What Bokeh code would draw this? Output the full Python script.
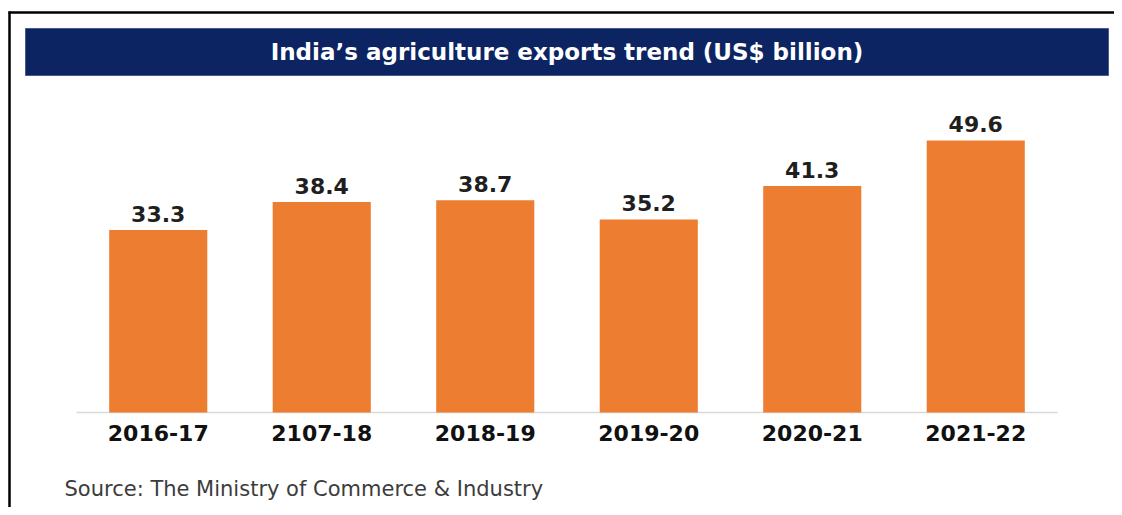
import numpy as np
from bokeh.plotting import figure
from bokeh.models import ColumnDataSource, Range1d
from bokeh.core.properties import value
from bokeh.embed import file_html
from bokeh.resources import INLINE

# ---- data ----
years = ["2016-17", "2107-18", "2018-19", "2019-20", "2020-21", "2021-22"]
exports = [33.3, 38.4, 38.7, 35.2, 41.3, 49.6]
value_labels = ["33.3", "38.4", "38.7", "35.2", "41.3", "49.6"]
title_text = "India\u2019s agriculture exports trend (US$ billion)"
source_text = "Source: The Ministry of Commerce & Industry"

# ---- layout (canvas pixels) ----
W, H = 1114, 507
PX_X = 163.5          # pixels per category slot
PX_Y = 5.484          # pixels per US$ billion
AXIS_LEFT_PX = 76     # canvas x where first slot starts
BASE_PX = 412         # canvas y of the baseline

X0 = -0.5 - AXIS_LEFT_PX / PX_X
X1 = X0 + W / PX_X
Y1 = BASE_PX / PX_Y
Y0 = Y1 - H / PX_Y


def dx(cx):
    return X0 + cx / PX_X


def dy(cy):
    return Y1 - cy / PX_Y


FONT = value("DejaVu Sans")

p = figure(width=W, height=H, output_backend="svg", toolbar_location=None,
           x_range=Range1d(X0, X1), y_range=Range1d(Y0, Y1),
           x_axis_location=None, y_axis_location=None,
           min_border=0, min_border_left=0, min_border_right=0,
           min_border_top=0, min_border_bottom=0)
p.grid.visible = False
p.outline_line_color = None
p.background_fill_color = "white"
p.border_fill_color = "white"

idx = np.arange(len(years))
src = ColumnDataSource(dict(x=idx, year=years, val=exports, lab=value_labels))

# frame border lines (top and left)
p.segment(x0=[dx(8)], y0=[dy(12)], x1=[X1], y1=[dy(12)], line_color="black", line_width=2.5)
p.segment(x0=[dx(9)], y0=[dy(11)], x1=[dx(9)], y1=[Y0], line_color="black", line_width=2.5)

# title bar
p.quad(left=[dx(25)], right=[dx(1108)], top=[dy(28)], bottom=[dy(75)],
       fill_color="#0d2463", line_color="#4a5a8c", line_width=1)
p.text(x=[(len(years) - 1) / 2], y=[dy(51)], text=[title_text],
       text_color="white", text_font=FONT, text_font_style="bold",
       text_font_size="23px", text_align="center", text_baseline="middle")

# baseline
p.segment(x0=[-0.5], y0=[0], x1=[len(years) - 0.5], y1=[0],
          line_color="#d9d9d9", line_width=1.5)

# bars
p.vbar(x="x", top="val", bottom=0, width=0.6, source=src,
       fill_color="#ed7d31", line_color=None)

# value labels
p.text(x="x", y="val", text="lab", source=src, y_offset=-16,
       text_color="#1f1f1f", text_font=FONT, text_font_style="bold",
       text_font_size="22px", text_align="center", text_baseline="middle")

# category labels
p.text(x="x", y=0, text="year", source=src, y_offset=20,
       text_color="#111111", text_font=FONT, text_font_style="bold",
       text_font_size="22px", text_align="center", text_baseline="middle")

# source note
p.text(x=[dx(64)], y=[dy(488)], text=[source_text],
       text_color="#3c3c3c", text_font=FONT, text_font_size="21px",
       text_align="left", text_baseline="middle")

open("out.html", "w").write(file_html(p, INLINE))
